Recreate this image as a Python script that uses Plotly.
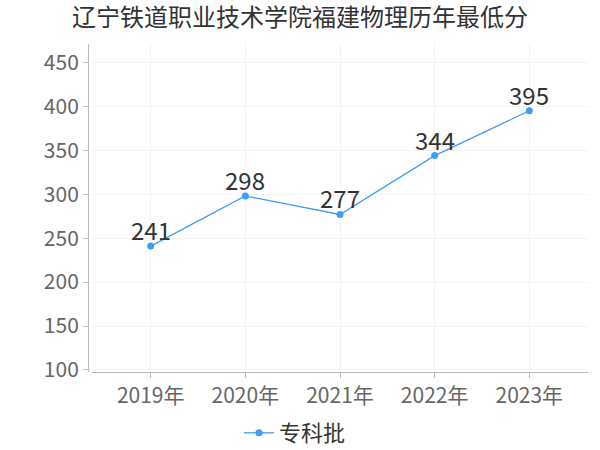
import plotly.graph_objects as go

years = ["2019年", "2020年", "2021年", "2022年", "2023年"]
scores = [241, 298, 277, 344, 395]
series_name = "专科批"
title = "辽宁铁道职业技术学院福建物理历年最低分"
y_ticks = [100, 150, 200, 250, 300, 350, 400, 450]

font_family = "Noto Sans CJK SC, Noto Sans, sans-serif"
color = "#3d9df5"

fig = go.Figure()
fig.add_trace(go.Scatter(
    x=list(range(len(years))), y=scores, name=series_name,
    mode="lines+markers",
    line=dict(color=color, width=1.3),
    marker=dict(color=color, size=7),
    cliponaxis=False,
))

for i, v in enumerate(scores):
    fig.add_annotation(x=i, y=v, text=str(v), showarrow=False,
                       xanchor="center", yanchor="bottom", yshift=-3,
                       font=dict(size=24, color="#333333", family=font_family))

fig.update_layout(
    width=600, height=450,
    margin=dict(l=88, r=12, t=44, b=78, autoexpand=False),
    paper_bgcolor="white", plot_bgcolor="white",
    font=dict(family=font_family),
    title=dict(text=title, x=0.5, xanchor="center", y=0.96, yanchor="middle",
               font=dict(size=24, color="#333333", family=font_family)),
    showlegend=True,
    legend=dict(orientation="h", x=0.302, xanchor="left", y=-0.122, yanchor="top",
                font=dict(size=22, color="#333333", family=font_family)),
    xaxis=dict(
        domain=[0.008, 1], automargin=False,
        tickmode="array", tickvals=list(range(len(years))), ticktext=years,
        range=[-0.62, 4.62],
        showline=True, linecolor="#bbbbbb", linewidth=1,
        ticks="outside", ticklen=5, tickcolor="#bbbbbb",
        showgrid=True, gridcolor="#f3f3f3",
        tickfont=dict(size=21, color="#666666"),
        zeroline=False,
    ),
    yaxis=dict(
        anchor="free", position=0, automargin=False,
        range=[97.7, 471],
        tickmode="array", tickvals=y_ticks,
        showline=True, linecolor="#bbbbbb", linewidth=1,
        ticks="outside", ticklen=5, tickcolor="#bbbbbb",
        showgrid=True, gridcolor="#f3f3f3",
        tickfont=dict(size=21, color="#666666"),
        zeroline=False,
    ),
)

fig.write_html("out.html", config={"displayModeBar": False},
               post_script="document.body.style.margin='0';document.body.style.overflow='hidden';")
